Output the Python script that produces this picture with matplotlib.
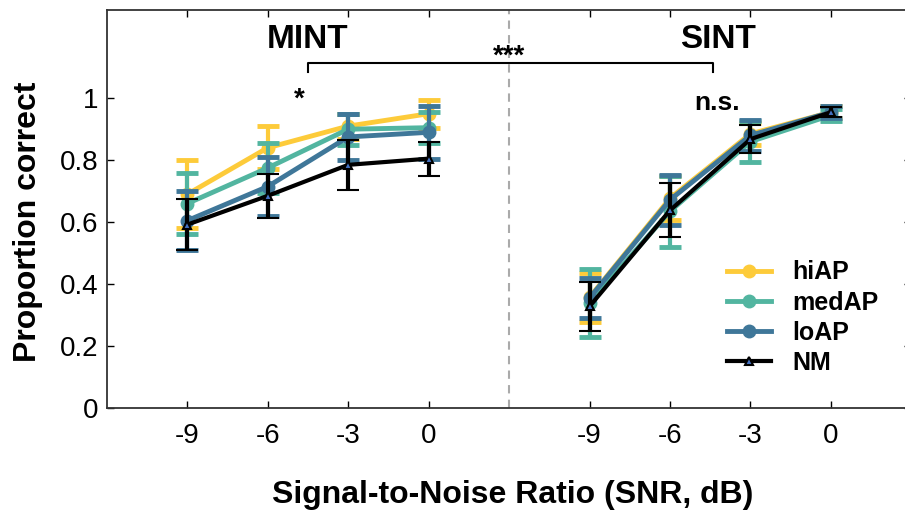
import matplotlib
matplotlib.use("Agg")
import matplotlib.pyplot as plt
from matplotlib.lines import Line2D

plt.rcParams['font.family'] = ['Liberation Sans', 'DejaVu Sans']

snr_labels = ["-9", "-6", "-3", "0"]
mint_pos = [1, 2, 3, 4]
sint_pos = [6, 7, 8, 9]
divider_pos = 5

groups = ["hiAP", "medAP", "loAP", "NM"]
colors = {"hiAP": "#FDCB3A", "medAP": "#52B5A0", "loAP": "#3F7799", "NM": "#000000"}

mint_mean = {
    "hiAP":  [0.69, 0.84, 0.91, 0.95],
    "medAP": [0.66, 0.775, 0.90, 0.905],
    "loAP":  [0.605, 0.715, 0.875, 0.89],
    "NM":    [0.592, 0.685, 0.785, 0.805],
}
mint_err = {
    "hiAP":  [0.11, 0.07, 0.04, 0.045],
    "medAP": [0.098, 0.08, 0.05, 0.05],
    "loAP":  [0.095, 0.095, 0.075, 0.085],
    "NM":    [0.082, 0.07, 0.08, 0.055],
}
sint_mean = {
    "hiAP":  [0.357, 0.677, 0.885, 0.955],
    "medAP": [0.34, 0.635, 0.86, 0.945],
    "loAP":  [0.355, 0.672, 0.88, 0.955],
    "NM":    [0.328, 0.638, 0.868, 0.955],
}
sint_err = {
    "hiAP":  [0.078, 0.071, 0.035, 0.02],
    "medAP": [0.11, 0.115, 0.065, 0.02],
    "loAP":  [0.065, 0.08, 0.05, 0.02],
    "NM":    [0.078, 0.087, 0.045, 0.017],
}

fig = plt.figure(figsize=(9.05, 5.12), dpi=100)
ax = fig.add_axes([0.118, 0.203, 0.889, 0.777])

handles = []
for i, g in enumerate(groups):
    c = colors[g]
    if g == "NM":
        mk = dict(marker="^", markersize=6, markerfacecolor="#4472C4",
                  markeredgecolor="black", markeredgewidth=1.5)
        lw = 3
    else:
        mk = dict(marker="o", markersize=9, markerfacecolor=c, markeredgecolor=c)
        lw = 3.5
    for pos, mean, err in ((mint_pos, mint_mean, mint_err), (sint_pos, sint_mean, sint_err)):
        ax.errorbar(pos, mean[g], yerr=err[g], color=c, lw=lw, elinewidth=3,
                    capsize=8, capthick=3.5, zorder=3 + i, **mk)
    handles.append(Line2D([], [], color=c, lw=lw, **mk))

ax.axvline(divider_pos, color="#aaaaaa", ls=(0, (4, 3)), lw=1.5, zorder=1)

ax.set_xlim(0, 10)
ax.set_ylim(0, 1.284)
ax.set_xticks(mint_pos + sint_pos)
ax.set_xticklabels(snr_labels + snr_labels)
ax.set_yticks([0, 0.2, 0.4, 0.6, 0.8, 1.0])
ax.set_yticklabels(["0", "0.2", "0.4", "0.6", "0.8", "1"])
ax.tick_params(direction="in", length=5, width=1, labelsize=20, top=True, right=True)
ax.tick_params(axis="x", pad=11)
ax.tick_params(axis="y", pad=6)
for sp in ax.spines.values():
    sp.set_linewidth(1.3)
    sp.set_color("#333333")

fig.text(28 / 905, 1 - 222 / 512, "Proportion correct", fontsize=23, fontweight="bold",
         rotation=90, ha="center", va="center")
fig.text(513 / 905, 1 - 503 / 512, "Signal-to-Noise Ratio (SNR, dB)", fontsize=23,
         fontweight="bold", ha="center", va="baseline")

ax.text(2.5, 1.19, "MINT", fontsize=24, fontweight="bold", ha="center", va="center")
ax.text(7.6, 1.19, "SINT", fontsize=24, fontweight="bold", ha="center", va="center")

# bracket
bx0, bx1, by = 2.5, 7.53, 1.113
ax.plot([bx0, bx0, bx1, bx1], [by - 0.029, by, by, by - 0.029], color="black", lw=1.5, zorder=10)
ax.text(5.0, 1.135, "***", fontsize=20, fontweight="bold", ha="center", va="center")
ax.text(2.39, 0.995, "*", fontsize=20, fontweight="bold", ha="center", va="center")
ax.text(7.58, 0.984, "n.s.", fontsize=19, fontweight="bold", ha="center", va="center")

leg = ax.legend(handles, groups, loc="center left", bbox_to_anchor=(0.771, 0.227), frameon=False,
                fontsize=18, handlelength=1.76, labelspacing=0.25, handletextpad=0.84,
                borderpad=0, borderaxespad=0)
for t in leg.get_texts():
    t.set_fontweight("bold")

fig.savefig("out.png", dpi=100)
